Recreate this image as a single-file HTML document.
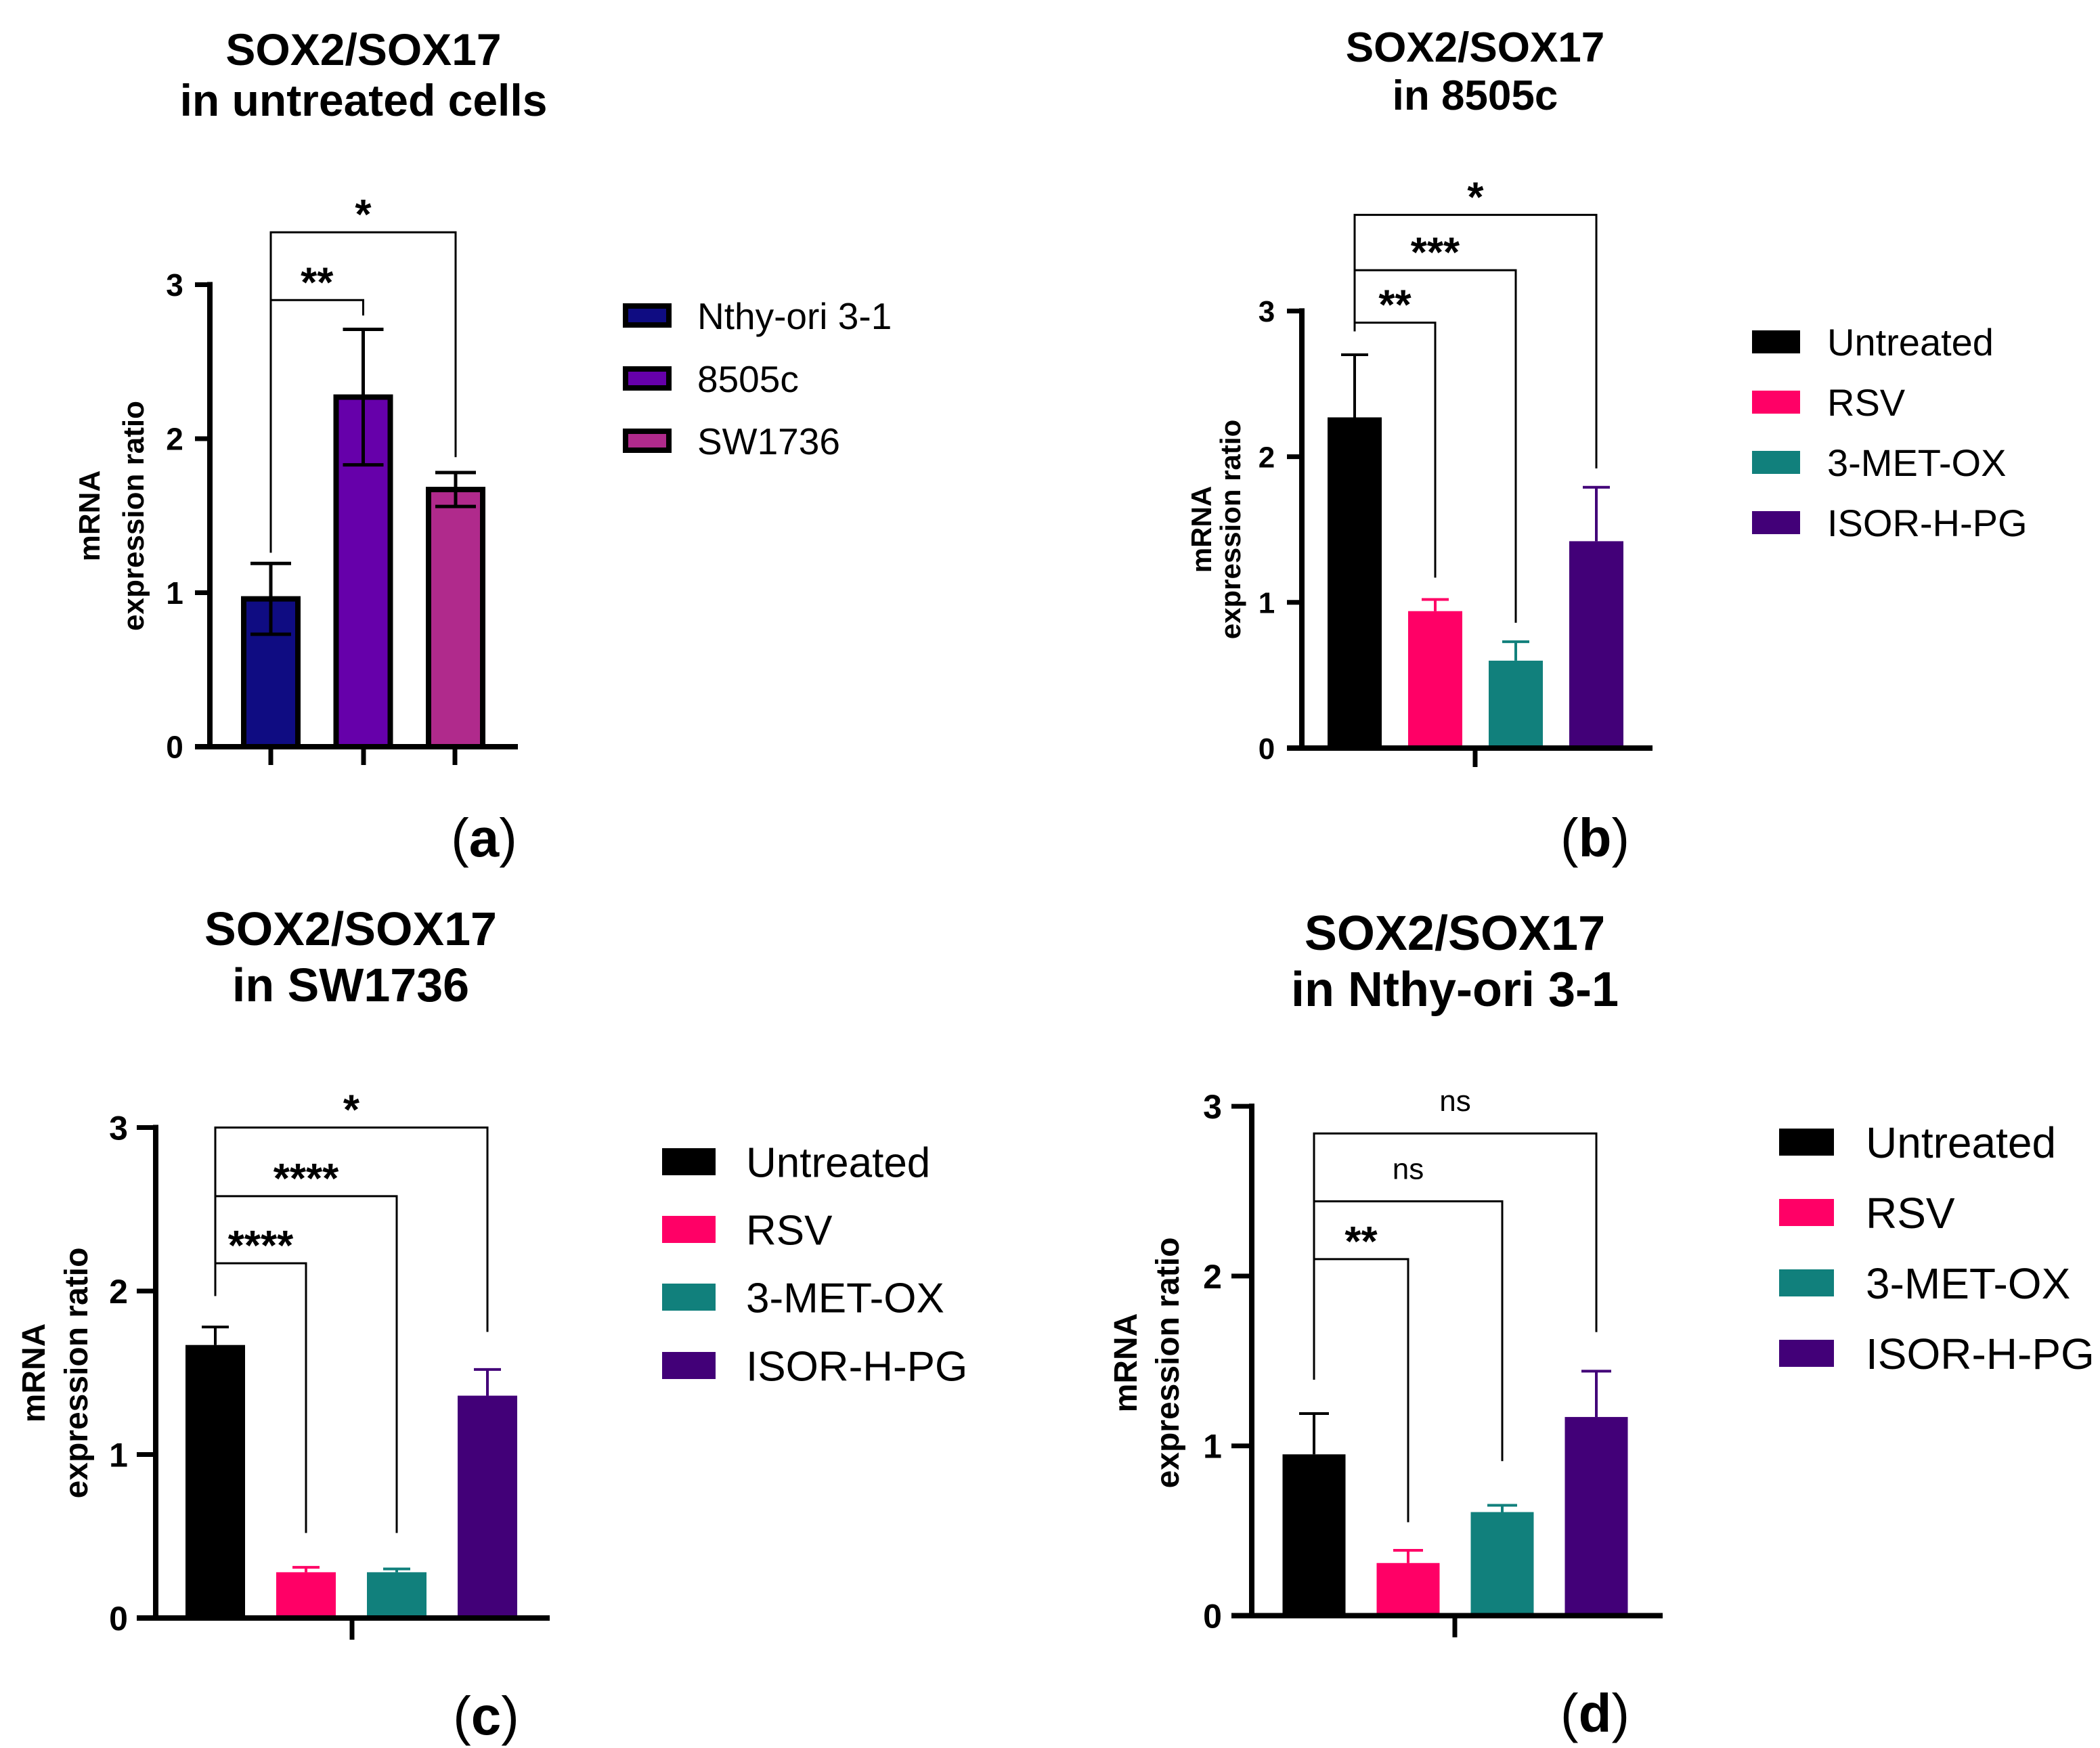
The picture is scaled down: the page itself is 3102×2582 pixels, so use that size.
<!DOCTYPE html>
<html><head><meta charset="utf-8"><style>
html,body{margin:0;padding:0;background:#fff}
svg{display:block}
text{font-family:"Liberation Sans",Arial,sans-serif}
</style></head><body>
<svg id="fig" width="3102" height="2582" viewBox="0 0 3102 2582" xmlns="http://www.w3.org/2000/svg"></svg>
<script>
// ---- Panel (a) data ----
const aCategories = ["Nthy-ori 3-1", "8505c", "SW1736"];
const aValues = [0.96, 2.27, 1.67];
const aErrors = [0.23, 0.44, 0.11];
const aColors = ["#0f0c82", "#6600aa", "#b02a8c"];
const aBrackets = [[0,1,2.90,1.26,2.80,"**"],[0,2,3.34,1.26,1.88,"*"]];
// ---- Panel (b) data ----
const bCategories = ["Untreated", "RSV", "3-MET-OX", "ISOR-H-PG"];
const bValues = [2.27, 0.94, 0.60, 1.42];
const bErrors = [0.43, 0.08, 0.13, 0.37];
const bBrackets = [[0,1,2.92,2.86,1.17,"**"],[0,2,3.28,2.86,0.86,"***"],[0,3,3.66,2.86,1.92,"*"]];
// ---- Panel (c) data ----
const cCategories = ["Untreated", "RSV", "3-MET-OX", "ISOR-H-PG"];
const cValues = [1.67, 0.28, 0.28, 1.36];
const cErrors = [0.11, 0.03, 0.02, 0.16];
const cBrackets = [[0,1,2.17,1.97,0.52,"****"],[0,2,2.58,1.97,0.52,"****"],[0,3,3.0,1.97,1.75,"*"]];
// ---- Panel (d) data ----
const dCategories = ["Untreated", "RSV", "3-MET-OX", "ISOR-H-PG"];
const dValues = [0.95, 0.31, 0.61, 1.17];
const dErrors = [0.24, 0.075, 0.04, 0.27];
const dBrackets = [[0,1,2.10,1.39,0.55,"**"],[0,2,2.44,1.39,0.91,"ns"],[0,3,2.84,1.39,1.67,"ns"]];
const treatColors = ["#000000", "#ff0066", "#11807c", "#420078"];
const yTicks = [0, 1, 2, 3];

const NS = "http://www.w3.org/2000/svg";
const svg = document.getElementById("fig");
function mk(tag, attrs, parent, txt){
  const e = document.createElementNS(NS, tag);
  for (const k in attrs) e.setAttribute(k, attrs[k]);
  if (txt !== undefined) e.textContent = txt;
  (parent || svg).appendChild(e);
  return e;
}

function panel(o){
  const g = mk("g", {});
  
  
  const y = v => o.y0 - v * o.unit;
  const xc = i => o.x1 + i * o.step;
  const t1 = mk("text",{x:o.tx,y:o.ty1,"font-size":o.tfs,"font-weight":"bold","text-anchor":"middle"},g,o.title1);
  
  
  mk("text",{x:o.tx,y:o.ty2,"font-size":o.tfs,"font-weight":"bold","text-anchor":"middle"},g,o.title2);
  o.values.forEach((v,i)=>{
    const col = o.colors[i];
    let r;
    if (o.outline){
      r = mk("rect",{x:xc(i)-o.bw/2+4,y:y(v),width:o.bw-8,height:y(0)-y(v),fill:col,stroke:"#000","stroke-width":8},g);
    } else {
      r = mk("rect",{x:xc(i)-o.bw/2,y:y(v),width:o.bw,height:y(0)-y(v),fill:col},g);
    }
    
    
    const ec = o.outline ? "#000" : col;
    const ew = o.outline ? 5 : 4;
    const lo = o.outline ? v - o.errors[i] : v;
    const eb = mk("line",{x1:xc(i),x2:xc(i),y1:y(v+o.errors[i]),y2:y(lo),stroke:ec,"stroke-width":ew},g);
    
    
    mk("line",{x1:xc(i)-o.cap,x2:xc(i)+o.cap,y1:y(v+o.errors[i]),y2:y(v+o.errors[i]),stroke:ec,"stroke-width":ew},g);
    if (o.outline) mk("line",{x1:xc(i)-o.cap,x2:xc(i)+o.cap,y1:y(lo),y2:y(lo),stroke:ec,"stroke-width":ew},g);
  });
  const ya = mk("line",{x1:o.ax,x2:o.ax,y1:y(3)-4,y2:y(0)+4,stroke:"#000","stroke-width":8},g);
  
  
  const xa = mk("line",{x1:o.ax-o.tl,x2:o.axEnd,y1:y(0),y2:y(0),stroke:"#000","stroke-width":8},g);
  
  
  yTicks.forEach(tv=>{
    mk("line",{x1:o.ax-o.tl,x2:o.ax,y1:y(tv),y2:y(tv),stroke:"#000","stroke-width":7},g);
    const tt = mk("text",{x:o.lx,y:y(tv)+o.lfs*0.36,"font-size":o.lfs,"font-weight":"bold","text-anchor":"middle"},g,String(tv));
    
    
  });
  o.xticks.forEach(xt=>{
    mk("line",{x1:xt,x2:xt,y1:y(0),y2:y(0)+o.xtl,stroke:"#000","stroke-width":7},g);
  });
  const yt = mk("text",{transform:`translate(${o.yl1},${o.ylc}) rotate(-90)`,"font-size":o.yfs,"font-weight":"bold","text-anchor":"middle"},g,"mRNA");
  
  
  mk("text",{transform:`translate(${o.yl2},${o.ylc}) rotate(-90)`,"font-size":o.yfs,"font-weight":"bold","text-anchor":"middle"},g,"expression ratio");
  o.brackets.forEach(b=>{
    const [i,j,lv,le,re,lab] = b;
    const p = mk("polyline",{points:`${xc(i)},${y(le)} ${xc(i)},${y(lv)} ${xc(j)},${y(lv)} ${xc(j)},${y(re)}`,fill:"none",stroke:"#000","stroke-width":3},g);
    
    
    const mid = (xc(i)+xc(j))/2;
    let st;
    if (lab === "ns"){
      st = mk("text",{x:mid,y:y(lv)-45+12,"font-size":44,"text-anchor":"middle"},g,lab);
    } else {
      st = mk("text",{x:mid,y:y(lv)-39+34,"font-size":62,"font-weight":"bold","text-anchor":"middle"},g,lab);
    }
    
    
  });
  o.cats.forEach((c,i)=>{
    const cy = o.legY[i];
    let sw;
    if (o.outline) sw = mk("rect",{x:o.legX+4,y:cy-o.sh/2+4,width:o.sw-8,height:o.sh-8,fill:o.colors[i],stroke:"#000","stroke-width":8},g);
    else sw = mk("rect",{x:o.legX,y:cy-o.sh/2,width:o.sw,height:o.sh,fill:o.colors[i]},g);
    
    
    const lt = mk("text",{x:o.legTX,y:cy+o.legfs*0.36,"font-size":o.legfs},g,c);
    
    
  });
  const pl = mk("text",{x:o.plx,y:o.ply,"font-size":80,"text-anchor":"middle","font-family":"Liberation Serif, serif"},g);
  
  
  mk("tspan",{},pl,"(");
  mk("tspan",{"font-weight":"bold"},pl,o.letter);
  mk("tspan",{},pl,")");
}

panel({name:"panel-a",letter:"a",title1:"SOX2/SOX17",title2:"in untreated cells",tx:537,ty1:96,ty2:171,tfs:66,
  cats:aCategories,values:aValues,errors:aErrors,colors:aColors,brackets:aBrackets,outline:true,
  y0:1103,unit:227.5,x1:400,step:136.5,bw:88,cap:30,ax:310,axEnd:765,tl:22,xticks:[400,537,672],xtl:27,
  lx:258,lfs:46,yl1:147,yl2:212,ylc:762,yfs:44,
  legX:920,legTX:1030,legY:[466,559,651],sw:72,sh:36,legfs:55,plx:715,ply:1265});
panel({name:"panel-b",letter:"b",title1:"SOX2/SOX17",title2:"in 8505c",tx:2179,ty1:91,ty2:162,tfs:62,
  cats:bCategories,values:bValues,errors:bErrors,colors:treatColors,brackets:bBrackets,outline:false,
  y0:1105,unit:215.2,x1:2001,step:119,bw:80,cap:20,ax:1923,axEnd:2441,tl:22,xticks:[2179],xtl:28,
  lx:1871,lfs:44,yl1:1789,yl2:1832,ylc:782,yfs:42,
  legX:2588,legTX:2699,legY:[505,594,683,772],sw:71,sh:34,legfs:56,plx:2356,ply:1265});
panel({name:"panel-c",letter:"c",title1:"SOX2/SOX17",title2:"in SW1736",tx:518,ty1:1396,ty2:1479,tfs:70,
  cats:cCategories,values:cValues,errors:cErrors,colors:treatColors,brackets:cBrackets,outline:false,
  y0:2390,unit:241.5,x1:318,step:134,bw:88,cap:20,ax:230,axEnd:812,tl:28,xticks:[520],xtl:32,
  lx:175,lfs:50,yl1:66,yl2:129,ylc:2028,yfs:48,
  legX:978,legTX:1102,legY:[1716,1816,1916,2017],sw:79,sh:40,legfs:62,plx:718,ply:2562});
panel({name:"panel-d",letter:"d",title1:"SOX2/SOX17",title2:"in Nthy-ori 3-1",tx:2149,ty1:1403,ty2:1486,tfs:72,
  cats:dCategories,values:dValues,errors:dErrors,colors:treatColors,brackets:dBrackets,outline:false,
  y0:2386.5,unit:250.8,x1:1941,step:139,bw:93,cap:22,ax:1849,axEnd:2456,tl:30,xticks:[2149],xtl:32,
  lx:1791,lfs:50,yl1:1679,yl2:1741,ylc:2013,yfs:48,
  legX:2628,legTX:2756,legY:[1687,1791,1895,1999],sw:81,sh:40,legfs:64,plx:2356,ply:2558});
</script>
</body></html>
